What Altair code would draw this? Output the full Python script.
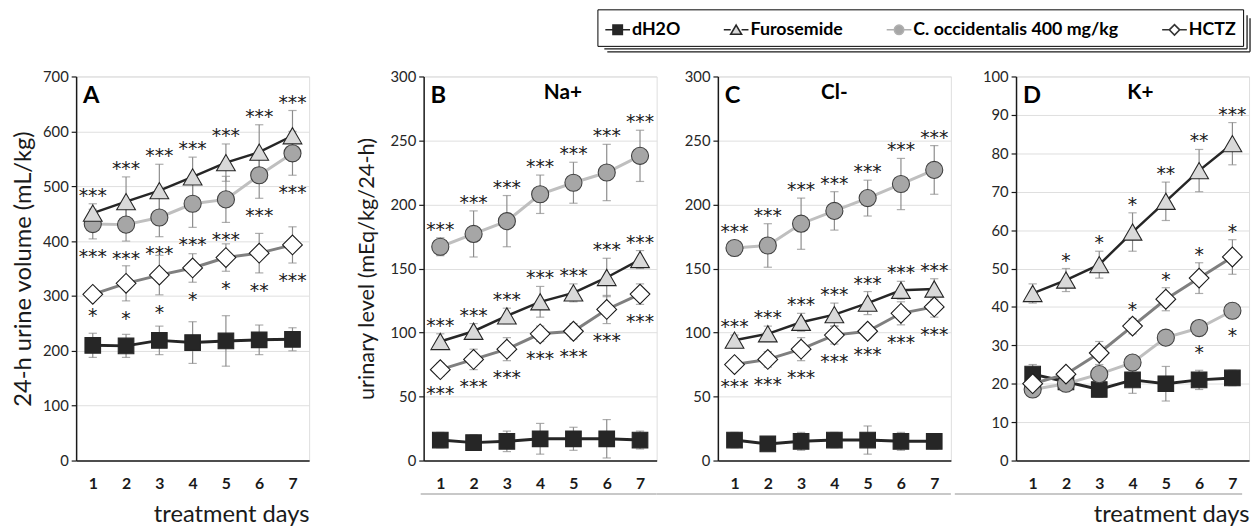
import altair as alt
import pandas as pd

DAYS = [1, 2, 3, 4, 5, 6, 7]
SERIES = ["dH2O", "Furosemide", "C. occidentalis 400 mg/kg", "HCTZ"]

# ---- Panel A: 24-h urine volume (mL/kg)
A_DH2O = [210, 209, 219, 215, 218, 220, 221]
A_DH2O_ERR = [22, 21, 26, 38, 46, 27, 21]
A_FURO = [451, 472, 492, 517, 543, 562, 592]
A_FURO_ERR = [17, 45, 48, 36, 34, 50, 46]
A_OCC = [431, 430, 443, 468, 476, 520, 560]
A_OCC_ERR = [27, 30, 35, 43, 42, 42, 40]
A_HCTZ = [303, 323, 338, 351, 370, 378, 393]
A_HCTZ_ERR = [8, 32, 36, 26, 25, 36, 33]
A_FURO_STARS = ["***", "***", "***", "***", "***", "***", "***"]
A_OCC_STARS = ["***", "***", "***", "***", "***", "***", "***"]
A_HCTZ_STARS = ["*", "*", "*", "*", "*", "**", "***"]

# ---- Panel B: Na+
B_DH2O = [16, 14, 15, 17, 17, 17, 16]
B_DH2O_ERR = [6, 6, 8, 12, 9, 15, 7]
B_FURO = [93, 101, 113, 124, 131, 143, 157]
B_FURO_ERR = [6, 6, 6, 12, 7, 15, 7]
B_OCC = [167, 177, 187, 208, 217, 225, 238]
B_OCC_ERR = [7, 18, 20, 15, 16, 22, 20]
B_HCTZ = [71, 79, 87, 99, 101, 118, 130]
B_HCTZ_ERR = [5, 8, 9, 6, 6, 11, 8]
B_FURO_STARS = ["***", "***", "***", "***", "***", "***", "***"]
B_OCC_STARS = ["***", "***", "***", "***", "***", "***", "***"]
B_HCTZ_STARS = ["***", "***", "***", "***", "***", "***", "***"]

# ---- Panel C: Cl-
C_DH2O = [16, 13, 15, 16, 16, 15, 15]
C_DH2O_ERR = [6, 5, 7, 6, 11, 7, 6]
C_FURO = [94, 99, 108, 114, 123, 133, 134]
C_FURO_ERR = [4, 6, 7, 9, 9, 7, 8]
C_OCC = [166, 168, 185, 195, 205, 216, 227]
C_OCC_ERR = [6, 17, 20, 15, 14, 20, 19]
C_HCTZ = [75, 79, 87, 98, 101, 115, 120]
C_HCTZ_ERR = [4, 6, 9, 7, 5, 9, 8]
C_FURO_STARS = ["***", "***", "***", "***", "***", "***", "***"]
C_OCC_STARS = ["***", "***", "***", "***", "***", "***", "***"]
C_HCTZ_STARS = ["***", "***", "***", "***", "***", "***", "***"]

# ---- Panel D: K+
D_DH2O = [22.5, 20.5, 18.5, 21, 20, 21, 21.5]
D_DH2O_ERR = [2.5, 1.5, 2, 3.5, 4.5, 2.5, 2]
D_FURO = [43.5, 47, 51, 59.5, 67.5, 75.5, 82.5]
D_FURO_ERR = [2.5, 3, 3.5, 5, 5, 5.5, 5.5]
D_OCC = [18.5, 20, 22.5, 25.5, 32, 34.5, 39]
D_OCC_ERR = [1, 1, 1.5, 1.5, 1.5, 2, 2]
D_HCTZ = [20, 22.5, 28, 35, 42, 47.5, 53]
D_HCTZ_ERR = [1, 1, 3, 2, 3, 4, 4.5]
D_FURO_STARS = ["", "*", "*", "*", "**", "**", "***"]
D_OCC_STARS = ["", "", "", "", "", "*", "*"]
D_HCTZ_STARS = ["", "", "", "*", "*", "*", "*"]

STYLE = {
    "dH2O": dict(line="#262626", lw=3, shape="square", size=250, fill="#262626", stroke="#262626"),
    "Furosemide": dict(line="#262626", lw=2.5, shape="triangle-up", size=360, fill="#d9d9d9", stroke="#262626"),
    "C. occidentalis 400 mg/kg": dict(line="#bfbfbf", lw=3, shape="circle", size=300, fill="#a6a6a6", stroke="#404040"),
    "HCTZ": dict(line="#7f7f7f", lw=3, shape="diamond", size=400, fill="#ffffff", stroke="#1a1a1a"),
}

LEGEND_SHAPES = [
    "M-1,0H-0.38M0.38,0H1M-0.38,-0.38H0.38V0.38H-0.38Z",
    "M-1,0H-0.44M0.44,0H1M0,-0.38L0.44,0.36H-0.44Z",
    "M-1,0H-0.38M0.38,0H1M0.38,0A0.38,0.38,0,1,1,-0.38,0A0.38,0.38,0,1,1,0.38,0Z",
    "M-1,0H-0.42M0.42,0H1M-0.42,0L0,-0.42L0.42,0L0,0.42Z",
]
LEGEND_FILLS = ["#262626", "#d9d9d9", "#a6a6a6", "#ffffff"]
LEGEND_STROKES = ["#262626", "#262626", "#b0b0b0", "#333333"]

W, H = 236, 389
FONT = "Lato"
TOP_GUARD = -64  # keeps all panels' top bounds equal (legend shadow lives in panel D)
SHADOW_LEFT = -417
SHADOW_COLOR = "#1a1a1a"


def make_df(groups):
    rows = []
    for name, vals, errs, stars, side in groups:
        for d, v, e, s in zip(DAYS, vals, errs, stars):
            rows.append(dict(day=d, series=name, mean=v, lo=v - e, hi=v + e,
                             star=s, side=side,
                             anchor=(v + e) if side == "above" else (v - e)))
    return pd.DataFrame(rows)


def hrule(x1, x2, y, color, width):
    return alt.Chart(pd.DataFrame({"k": [0]})).mark_rule(color=color, strokeWidth=width).encode(
        x=alt.value(x1), x2=alt.value(x2), y=alt.value(y))


def vrule(x, y1, y2, color, width):
    return alt.Chart(pd.DataFrame({"k": [0]})).mark_rule(color=color, strokeWidth=width).encode(
        x=alt.value(x), y=alt.value(y1), y2=alt.value(y2))


def panel(df, ymax, ystep, letter, ion, ion_x, ytitle, ytitle_size, ytitle_pad, xtitle,
          sep_from, sep_to, legend=False, shadow=False):
    xaxis = alt.Axis(title=xtitle, labelAngle=0, labelFont=FONT, labelFontWeight="bold",
                     labelFontSize=16, labelColor="#1a1a1a", labelPadding=15, ticks=False,
                     domainColor="#1a1a1a", domainWidth=1.5, grid=False,
                     titleFont=FONT, titleFontSize=24, titleFontWeight="normal",
                     titleColor="#1a1a1a", titleAnchor="end", titlePadding=12)

    def X(field="day"):
        return alt.X(f"{field}:O", scale=alt.Scale(type="point", padding=0.5), axis=xaxis)

    yaxis = alt.Axis(title=ytitle, values=list(range(0, ymax + 1, ystep)), grid=True,
                     gridColor="#dedede", gridWidth=1, domainColor="#1a1a1a", domainWidth=1.5,
                     tickColor="#1a1a1a", tickSize=5, tickWidth=1.2, labelFont=FONT,
                     labelFontSize=15, labelColor="#262626", labelPadding=3,
                     titleFont=FONT, titleFontSize=ytitle_size, titleFontWeight="normal",
                     titleColor="#1a1a1a", titlePadding=ytitle_pad)

    def Y(field):
        return alt.Y(f"{field}:Q", scale=alt.Scale(domain=[0, ymax], nice=False), axis=yaxis)

    base = alt.Chart(df)
    layers = []
    # error bars
    layers.append(base.mark_rule(color="#8c8c8c", strokeWidth=1.2).encode(
        x=X(), y=Y("lo"), y2="hi:Q"))
    for f in ["lo", "hi"]:
        layers.append(base.mark_point(shape="M-1,0H1", size=70, stroke="#8c8c8c",
                                      strokeWidth=1.2, filled=False).encode(x=X(), y=Y(f)))
    for name in ["dH2O", "C. occidentalis 400 mg/kg", "Furosemide", "HCTZ"]:
        st = STYLE[name]
        sub = base.transform_filter(alt.datum.series == name)
        layers.append(sub.mark_line(color=st["line"], strokeWidth=st["lw"]).encode(
            x=X(), y=Y("mean")))
        layers.append(sub.mark_point(shape=st["shape"], size=st["size"], filled=True,
                                     fill=st["fill"], stroke=st["stroke"], strokeWidth=1.1,
                                     opacity=1).encode(x=X(), y=Y("mean")))
    # stars
    layers.append(base.transform_filter(alt.datum.side == "above").mark_text(
        font="DejaVu Sans", fontSize=19, baseline="alphabetic", dy=-2, color="#1a1a1a").encode(
        x=X(), y=Y("anchor"), text="star:N"))
    layers.append(base.transform_filter(alt.datum.side == "below").mark_text(
        font="DejaVu Sans", fontSize=19, baseline="alphabetic", dy=24, color="#1a1a1a").encode(
        x=X(), y=Y("anchor"), text="star:N"))

    one = alt.Chart(pd.DataFrame({"k": [0]}))
    layers.append(one.mark_text(font=FONT, fontSize=24, fontWeight="bold", align="left",
                                baseline="middle", color="#000000").encode(
        x=alt.value(7), y=alt.value(20), text=alt.value(letter)))
    if ion:
        layers.append(one.mark_text(font=FONT, fontSize=21, fontWeight="bold", align="center",
                                    baseline="middle", color="#000000").encode(
            x=alt.value(ion_x), y=alt.value(17), text=alt.value(ion)))
    if sep_from is not None:
        layers.append(hrule(sep_from, sep_to, H + 34, "#c8c8c8", 2))
    if shadow:
        # double drop-shadow lines of the legend box (drawn relative to this panel)
        layers.append(hrule(SHADOW_LEFT, 234, -28, SHADOW_COLOR, 1.3))
        layers.append(hrule(SHADOW_LEFT + 3, 237, -25, SHADOW_COLOR, 1.3))
        layers.append(vrule(234, -62, -28, SHADOW_COLOR, 1.3))
        layers.append(vrule(237, -59, -25, SHADOW_COLOR, 1.3))
    else:
        layers.append(hrule(0, 1, TOP_GUARD, "#ffffff", 1))
    if legend:
        leg = alt.Legend(title=None, orient="none", legendX=528, legendY=-68,
                         direction="horizontal", columns=4, strokeColor="#000000",
                         fillColor="#ffffff", padding=7, labelFont=FONT, labelFontSize=18,
                         labelFontWeight="bold", labelColor="#000000", labelLimit=400,
                         symbolSize=625, symbolStrokeWidth=1.6, columnPadding=40,
                         labelOffset=1, symbolOpacity=1)
        layers.append(base.transform_filter("datum.day < 0").mark_point(filled=True, opacity=1).encode(
            x=X(), y=Y("mean"),
            shape=alt.Shape("series:N", scale=alt.Scale(domain=SERIES, range=LEGEND_SHAPES), legend=leg),
            fill=alt.Fill("series:N", scale=alt.Scale(domain=SERIES, range=LEGEND_FILLS), legend=leg),
            stroke=alt.Stroke("series:N", scale=alt.Scale(domain=SERIES, range=LEGEND_STROKES), legend=leg),
        ))
    return alt.layer(*layers).properties(width=W, height=H)


dfA = make_df([
    ("dH2O", A_DH2O, A_DH2O_ERR, [""] * 7, "below"),
    ("Furosemide", A_FURO, A_FURO_ERR, A_FURO_STARS, "above"),
    ("C. occidentalis 400 mg/kg", A_OCC, A_OCC_ERR, A_OCC_STARS, "below"),
    ("HCTZ", A_HCTZ, A_HCTZ_ERR, A_HCTZ_STARS, "below"),
])
dfB = make_df([
    ("dH2O", B_DH2O, B_DH2O_ERR, [""] * 7, "below"),
    ("Furosemide", B_FURO, B_FURO_ERR, B_FURO_STARS, "above"),
    ("C. occidentalis 400 mg/kg", B_OCC, B_OCC_ERR, B_OCC_STARS, "above"),
    ("HCTZ", B_HCTZ, B_HCTZ_ERR, B_HCTZ_STARS, "below"),
])
dfC = make_df([
    ("dH2O", C_DH2O, C_DH2O_ERR, [""] * 7, "below"),
    ("Furosemide", C_FURO, C_FURO_ERR, C_FURO_STARS, "above"),
    ("C. occidentalis 400 mg/kg", C_OCC, C_OCC_ERR, C_OCC_STARS, "above"),
    ("HCTZ", C_HCTZ, C_HCTZ_ERR, C_HCTZ_STARS, "below"),
])
dfD = make_df([
    ("dH2O", D_DH2O, D_DH2O_ERR, [""] * 7, "below"),
    ("Furosemide", D_FURO, D_FURO_ERR, D_FURO_STARS, "above"),
    ("C. occidentalis 400 mg/kg", D_OCC, D_OCC_ERR, D_OCC_STARS, "below"),
    ("HCTZ", D_HCTZ, D_HCTZ_ERR, D_HCTZ_STARS, "above"),
])

pA = panel(dfA, 700, 100, "A", None, 0, "24-h urine volume (mL/kg)", 24, 7,
           "treatment days", None, None, legend=True)
pB = panel(dfB, 300, 50, "B", "Na+", 141, "urinary level (mEq/kg/24-h)", 22, 12,
           None, -3, W)
pC = panel(dfC, 300, 50, "C", "Cl-", 118, None, 22, 12, None, -62, W)
pD = panel(dfD, 100, 10, "D", "K+", 126, None, 22, 12, "treatment days", -62, W - 7,
           shadow=True)

CD_SPACING = 298 - W + SHADOW_LEFT
inner = alt.hconcat(pC, pD, spacing=CD_SPACING)
inner_left = min(-62, 298 + SHADOW_LEFT)
BC_SPACING = 298 - W + inner_left
right = alt.hconcat(pB, inner, spacing=BC_SPACING)
chart = alt.hconcat(pA, right, spacing=45).properties(
    padding={"left": 3, "top": -3, "right": 0, "bottom": 0}
).configure_view(stroke=None).configure(font=FONT)

chart.save("out.html", embed_options={"renderer": "svg", "actions": False})
